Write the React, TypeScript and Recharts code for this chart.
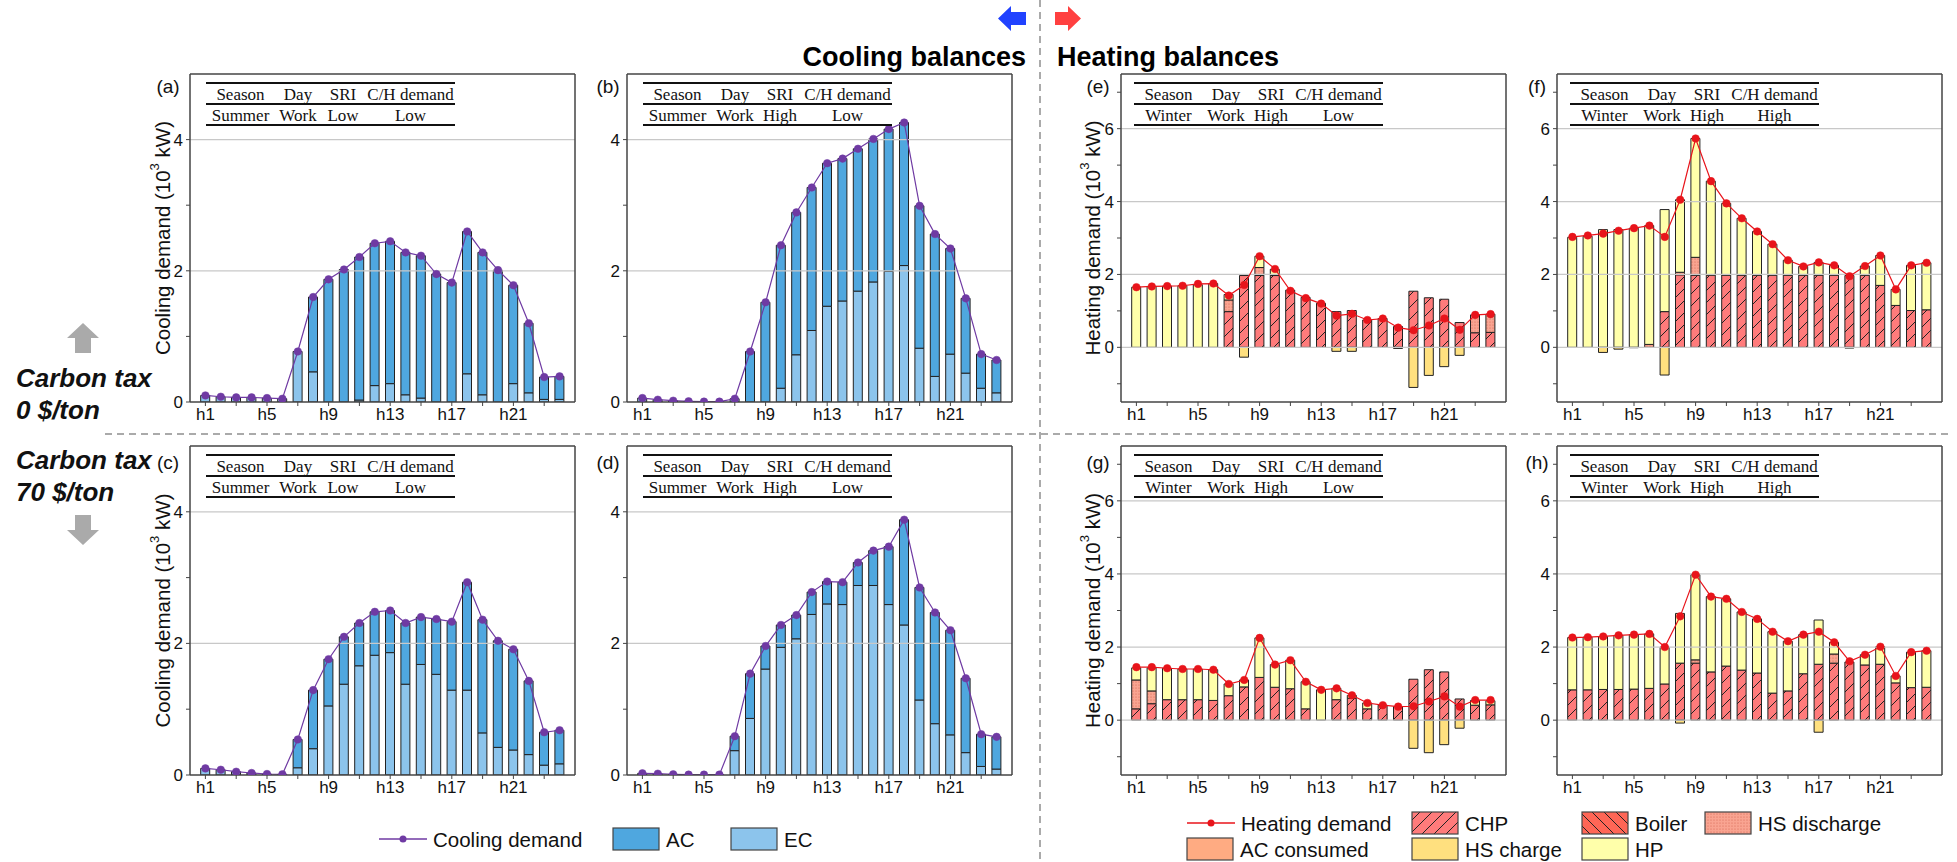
import { Bar, ComposedChart, Line, ReferenceLine, XAxis, YAxis } from 'recharts';

// hour axis
const HOURS = [1, 2, 3, 4, 5, 6, 7, 8, 9, 10, 11, 12, 13, 14, 15, 16, 17, 18, 19, 20, 21, 22, 23, 24];
const HOUR_TICKS = [1, 3, 5, 7, 9, 11, 13, 15, 17, 19, 21, 23];
const HOUR_LABELS = [1, 5, 9, 13, 17, 21];

const COOL_TICKS = [0, 1, 2, 3, 4];
const COOL_GRID = [2, 4];
const HEAT_TICKS = [-1, 0, 1, 2, 3, 4, 5, 6, 7];
const HEAT_GRID = [0, 2, 4, 6];

// (a) summer, SRI low, tax 0
const coolDemandA = [0.1, 0.08, 0.07, 0.07, 0.06, 0.05, 0.77, 1.6, 1.87, 2.02, 2.21, 2.42, 2.45, 2.28, 2.23, 1.95, 1.82, 2.6, 2.28, 2.01, 1.78, 1.2, 0.38, 0.39];
const ecA = [0.1, 0.08, 0.07, 0.07, 0.06, 0.05, 0.77, 0.46, 0, 0, 0.03, 0.25, 0.28, 0.11, 0.06, 0, 0, 0.43, 0.11, 0, 0.28, 0.14, 0.04, 0.04];
const acA = [0, 0, 0, 0, 0, 0, 0, 1.14, 1.87, 2.02, 2.18, 2.17, 2.17, 2.17, 2.17, 1.95, 1.82, 2.17, 2.17, 2.01, 1.5, 1.06, 0.34, 0.35];

// (b) summer, SRI high, tax 0
const coolDemandB = [0.06, 0.035, 0.02, 0.01, 0.005, 0.005, 0.05, 0.77, 1.52, 2.39, 2.89, 3.27, 3.64, 3.71, 3.86, 4.01, 4.16, 4.26, 2.99, 2.56, 2.34, 1.58, 0.73, 0.64];
const ecB = [0.06, 0.035, 0.02, 0.01, 0.005, 0.005, 0.05, 0, 0, 0.21, 0.72, 1.09, 1.46, 1.54, 1.69, 1.83, 1.99, 2.08, 0.82, 0.39, 0.73, 0.44, 0.21, 0.14];
const acB = [0, 0, 0, 0, 0, 0, 0, 0.77, 1.52, 2.18, 2.17, 2.18, 2.18, 2.17, 2.17, 2.18, 2.17, 2.18, 2.17, 2.17, 1.61, 1.14, 0.52, 0.5];

// (c) summer, SRI low, tax 70
const coolDemandC = [0.1, 0.08, 0.05, 0.03, 0.015, 0.01, 0.54, 1.29, 1.76, 2.1, 2.31, 2.48, 2.5, 2.31, 2.4, 2.37, 2.33, 2.93, 2.36, 2.04, 1.91, 1.43, 0.65, 0.68];
const ecC = [0.1, 0.08, 0.05, 0.03, 0.015, 0.01, 0.11, 0.4, 1.05, 1.38, 1.66, 1.82, 1.86, 1.38, 1.68, 1.53, 1.29, 1.29, 0.64, 0.42, 0.38, 0.31, 0.15, 0.17];
const acC = [0, 0, 0, 0, 0, 0, 0.43, 0.89, 0.71, 0.72, 0.65, 0.66, 0.64, 0.93, 0.72, 0.84, 1.04, 1.64, 1.72, 1.62, 1.53, 1.12, 0.5, 0.51];

// (d) summer, SRI high, tax 70
const coolDemandD = [0.025, 0.02, 0.01, 0.005, 0.005, 0.005, 0.59, 1.54, 1.96, 2.28, 2.43, 2.78, 2.94, 2.93, 3.23, 3.41, 3.47, 3.88, 2.85, 2.47, 2.2, 1.47, 0.62, 0.58];
const ecD = [0.025, 0.02, 0.01, 0.005, 0.005, 0.005, 0.37, 0.86, 1.61, 1.94, 2.07, 2.44, 2.6, 2.59, 2.88, 2.88, 2.59, 2.28, 1.14, 0.78, 0.61, 0.34, 0.13, 0.09];
const acD = [0, 0, 0, 0, 0, 0, 0.22, 0.68, 0.35, 0.34, 0.36, 0.34, 0.34, 0.34, 0.35, 0.53, 0.88, 1.6, 1.71, 1.69, 1.59, 1.13, 0.49, 0.49];

// (e) winter, demand low, tax 0
const heatDemandE = [1.65, 1.67, 1.68, 1.69, 1.74, 1.75, 1.42, 1.71, 2.5, 2.15, 1.55, 1.35, 1.2, 0.87, 0.92, 0.75, 0.79, 0.54, 0.47, 0.6, 0.79, 0.48, 0.89, 0.91];
const chpE = [0, 0, 0, 0, 0, 0, 0.98, 1.97, 1.97, 1.97, 1.57, 1.37, 1.21, 0.98, 1.01, 0.75, 0.79, 0.57, 1.54, 1.36, 1.32, 0.68, 0.4, 0.41];
const hsDisE = [0, 0, 0, 0, 0, 0, 0.32, 0, 0.22, 0, 0, 0, 0, 0, 0, 0, 0, 0, 0, 0, 0, 0, 0.49, 0.5];
const hpE = [1.65, 1.67, 1.68, 1.69, 1.72, 1.75, 0.15, 0, 0.31, 0.17, 0, 0, 0, 0, 0, 0, 0, 0, 0, 0, 0, 0, 0, 0];
const hsChE = [0, 0, 0, 0, 0, 0, 0, -0.27, 0, 0, 0, 0, 0, -0.11, -0.11, 0, 0, -0.03, -1.1, -0.77, -0.53, -0.22, 0, 0];

// (f) winter, demand high, tax 0
const heatDemandF = [3.03, 3.07, 3.12, 3.2, 3.27, 3.34, 3.03, 4.05, 5.73, 4.56, 3.95, 3.54, 3.18, 2.83, 2.39, 2.22, 2.33, 2.25, 1.95, 2.23, 2.52, 1.59, 2.25, 2.32];
const chpF = [0, 0, 0, 0, 0, 0, 0.98, 1.99, 1.98, 1.98, 1.98, 1.98, 1.98, 1.98, 1.98, 1.98, 1.98, 1.98, 1.97, 1.98, 1.7, 1.15, 1.01, 1.03];
const hsDisF = [0, 0, 0, 0, 0, 0.08, 0, 0.07, 0.49, 0, 0, 0, 0, 0, 0, 0, 0, 0, 0, 0, 0, 0, 0, 0];
const hpF = [3.02, 3.05, 3.23, 3.23, 3.27, 3.26, 2.8, 1.99, 3.26, 2.58, 1.97, 1.56, 1.2, 0.85, 0.41, 0.24, 0.35, 0.27, 0, 0.25, 0.82, 0.44, 1.24, 1.29];
const hsChF = [0, 0, -0.14, -0.05, -0.01, 0, -0.76, 0, 0, 0, 0, 0, 0, 0, 0, 0, 0, 0, -0.02, 0, 0, 0, 0, 0];

// (g) winter, demand low, tax 70
const heatDemandG = [1.45, 1.45, 1.42, 1.4, 1.4, 1.38, 0.99, 1.1, 2.25, 1.52, 1.64, 1.05, 0.83, 0.87, 0.68, 0.47, 0.41, 0.37, 0.38, 0.51, 0.65, 0.37, 0.55, 0.55];
const chpG = [0.31, 0.45, 0.56, 0.56, 0.56, 0.54, 0.67, 0.91, 1.17, 0.9, 0.86, 0.31, 0, 0.56, 0.6, 0.31, 0.41, 0.37, 1.12, 1.38, 1.32, 0.58, 0.41, 0.42];
const hsDisG = [0.79, 0.35, 0, 0, 0, 0, 0, 0, 0, 0, 0, 0, 0, 0, 0, 0, 0, 0, 0, 0, 0, 0, 0, 0];
const hpG = [0.33, 0.63, 0.86, 0.84, 0.84, 0.84, 0.32, 0.19, 1.08, 0.62, 0.78, 0.74, 0.83, 0.31, 0.08, 0.16, 0, 0, 0, 0, 0, 0, 0.13, 0.11];
const hsChG = [0, 0, 0, 0, 0, 0, 0, 0, 0, 0, 0, 0, 0, 0, 0, 0, 0, 0, -0.77, -0.89, -0.67, -0.22, 0, 0];

// (h) winter, demand high, tax 70
const heatDemandH = [2.26, 2.27, 2.29, 2.32, 2.34, 2.36, 2.0, 2.84, 3.98, 3.38, 3.32, 2.96, 2.77, 2.42, 2.16, 2.34, 2.42, 2.13, 1.61, 1.79, 2.01, 1.21, 1.86, 1.9];
const chpH = [0.83, 0.83, 0.84, 0.84, 0.85, 0.87, 0.99, 1.56, 1.56, 1.32, 1.48, 1.37, 1.29, 0.74, 0.8, 1.27, 1.53, 1.56, 1.59, 1.51, 1.53, 1.02, 0.89, 0.9];
const hsDisH = [0, 0, 0, 0, 0, 0, 0, 0, 0.09, 0, 0, 0, 0, 0, 0, 0, 0, 0.25, 0, 0, 0, 0, 0, 0];
const hpH = [1.43, 1.44, 1.45, 1.48, 1.49, 1.49, 1.01, 1.36, 2.33, 2.06, 1.84, 1.59, 1.48, 1.68, 1.36, 1.07, 1.21, 0.32, 0, 0.28, 0.48, 0.19, 0.97, 1.0];
const hsChH = [0, 0, 0, 0, 0, 0, 0, -0.08, 0, 0, 0, 0, 0, 0, 0, 0, -0.33, 0, 0, 0, 0, 0, 0, 0];

const TABLE_HEAD = ['Season', 'Day', 'SRI', 'C/H demand'];

const SANS = "'Liberation Sans', Arial, Helvetica, sans-serif";
const SERIF = "'Liberation Serif', 'Times New Roman', serif";

const C = {
  ac: '#4fa7df',
  ec: '#8cc4ec',
  coolLine: '#6f3aa3',
  heatLine: '#e8141b',
  chp: '#ff7b7b',
  boiler: '#ff6656',
  hsDis: '#f9a491',
  acCons: '#ffab82',
  hsCh: '#ffe07f',
  hp: '#ffffaa',
  frame: '#444',
  grid: '#c8c8c8',
};

const PW = 385;
const YW = 40;
const XH = 32;
const COLS = [190, 627, 1121, 1557];
const ROWS = [
  { top: 74, h: 328 },
  { top: 446, h: 329 },
];

type Layer = { key: string; values: number[]; fill: string };

function Panel({
  left,
  top,
  h,
  heat,
  demand,
  layers,
}: {
  left: number;
  top: number;
  h: number;
  heat: boolean;
  demand: number[];
  layers: Layer[];
}) {
  const data = HOURS.map((hour, i) => {
    const row: Record<string, number> = { hour, demand: demand[i] };
    layers.forEach((l) => {
      row[l.key] = l.values[i];
    });
    return row;
  });
  const domain: [number, number] = heat ? [-1.5, 7.5] : [0, 5];
  const yTicks = heat ? HEAT_TICKS : COOL_TICKS;
  const grid = heat ? HEAT_GRID : COOL_GRID;
  const lineColor = heat ? C.heatLine : C.coolLine;
  const tickStyle = { fontSize: 17, fill: '#111', fontFamily: SANS };
  return (
    <div style={{ position: 'absolute', left: left - YW, top: top - 2 }}>
      <ComposedChart
        width={YW + PW + 2}
        height={h + 2 + XH}
        data={data}
        stackOffset="sign"
        margin={{ top: 2, right: 2, left: 0, bottom: 0 }}
      >
        <XAxis
          dataKey="hour"
          type="number"
          domain={[0, 25]}
          ticks={HOUR_TICKS}
          interval={0}
          tickFormatter={(v: number) => (HOUR_LABELS.includes(v) ? `h${v}` : '')}
          tick={tickStyle}
          tickSize={4}
          tickMargin={2}
          height={XH}
          axisLine={{ stroke: C.frame, strokeWidth: 1.5 }}
          tickLine={{ stroke: C.frame }}
        />
        <XAxis
          xAxisId="top"
          orientation="top"
          type="number"
          domain={[0, 25]}
          ticks={HOUR_TICKS}
          interval={0}
          mirror
          tick={false}
          tickSize={4}
          axisLine={{ stroke: C.frame, strokeWidth: 1.5 }}
          tickLine={{ stroke: C.frame }}
        />
        <YAxis
          type="number"
          domain={domain}
          ticks={yTicks}
          interval={0}
          allowDataOverflow
          width={YW}
          tickFormatter={(v: number) => (v % 2 === 0 ? String(v) : '')}
          tick={tickStyle}
          tickSize={4}
          tickMargin={3}
          axisLine={{ stroke: C.frame, strokeWidth: 1.5 }}
          tickLine={{ stroke: C.frame }}
        />
        <YAxis
          yAxisId="right"
          orientation="right"
          type="number"
          domain={domain}
          ticks={yTicks}
          interval={0}
          allowDataOverflow
          mirror
          tick={false}
          tickSize={4}
          axisLine={{ stroke: C.frame, strokeWidth: 1.5 }}
          tickLine={{ stroke: C.frame }}
        />
        {grid.map((g) => (
          <ReferenceLine key={g} y={g} stroke={C.grid} strokeWidth={1.2} />
        ))}
        {layers.map((l) => (
          <Bar
            key={l.key}
            dataKey={l.key}
            stackId="s"
            barSize={9}
            fill={l.fill}
            stroke="#222"
            strokeWidth={1}
            isAnimationActive={false}
          />
        ))}
        <Line
          dataKey="demand"
          stroke={lineColor}
          strokeWidth={1.2}
          dot={{ r: 3.8, fill: lineColor, stroke: lineColor, strokeWidth: 0.5 }}
          activeDot={false}
          isAnimationActive={false}
        />
      </ComposedChart>
    </div>
  );
}

function coolLayers(ec: number[], ac: number[]): Layer[] {
  return [
    { key: 'EC', values: ec, fill: C.ec },
    { key: 'AC', values: ac, fill: C.ac },
  ];
}

function heatLayers(chp: number[], dis: number[], hp: number[], ch: number[]): Layer[] {
  return [
    { key: 'CHP', values: chp, fill: 'url(#pChp)' },
    { key: 'HS discharge', values: dis, fill: 'url(#pDis)' },
    { key: 'HP', values: hp, fill: C.hp },
    { key: 'HS charge', values: ch, fill: C.hsCh },
  ];
}

const PANELS = [
  { tag: '(a)', col: 0, row: 0, heat: false, demand: coolDemandA, layers: coolLayers(ecA, acA), cells: ['Summer', 'Work', 'Low', 'Low'] },
  { tag: '(b)', col: 1, row: 0, heat: false, demand: coolDemandB, layers: coolLayers(ecB, acB), cells: ['Summer', 'Work', 'High', 'Low'] },
  { tag: '(c)', col: 0, row: 1, heat: false, demand: coolDemandC, layers: coolLayers(ecC, acC), cells: ['Summer', 'Work', 'Low', 'Low'] },
  { tag: '(d)', col: 1, row: 1, heat: false, demand: coolDemandD, layers: coolLayers(ecD, acD), cells: ['Summer', 'Work', 'High', 'Low'] },
  { tag: '(e)', col: 2, row: 0, heat: true, demand: heatDemandE, layers: heatLayers(chpE, hsDisE, hpE, hsChE), cells: ['Winter', 'Work', 'High', 'Low'] },
  { tag: '(f)', col: 3, row: 0, heat: true, demand: heatDemandF, layers: heatLayers(chpF, hsDisF, hpF, hsChF), cells: ['Winter', 'Work', 'High', 'High'] },
  { tag: '(g)', col: 2, row: 1, heat: true, demand: heatDemandG, layers: heatLayers(chpG, hsDisG, hpG, hsChG), cells: ['Winter', 'Work', 'High', 'Low'] },
  { tag: '(h)', col: 3, row: 1, heat: true, demand: heatDemandH, layers: heatLayers(chpH, hsDisH, hpH, hsChH), cells: ['Winter', 'Work', 'High', 'High'] },
];

function InfoTable({ x, y, heat, cells }: { x: number; y: number; heat: boolean; cells: string[] }) {
  const off = heat ? -3 : 0;
  const x0 = x + 16 + off;
  const x1 = x + 265 + off;
  const centers = [50.5, 108, 153, 220.5].map((c) => x + c + off);
  return (
    <g fontFamily={SERIF} fontSize={17} fill="#111">
      {[9, 30, 51].map((d) => (
        <line key={d} x1={x0} x2={x1} y1={y + d} y2={y + d} stroke="#111" strokeWidth={2} />
      ))}
      {TABLE_HEAD.map((t, i) => (
        <text key={t} x={centers[i]} y={y + 20} textAnchor="middle" dominantBaseline="central">
          {t}
        </text>
      ))}
      {cells.map((t, i) => (
        <text key={i} x={centers[i]} y={y + 41} textAnchor="middle" dominantBaseline="central">
          {t}
        </text>
      ))}
    </g>
  );
}

function YLabel({ x, y, text }: { x: number; y: number; text: string }) {
  return (
    <text
      x={x}
      y={y}
      transform={`rotate(-90 ${x} ${y})`}
      textAnchor="middle"
      dominantBaseline="central"
      fontFamily={SANS}
      fontSize={20.5}
      fill="#111"
    >
      {text} (10
      <tspan dy={-8} fontSize={13}>
        3
      </tspan>
      <tspan dy={8}> kW)</tspan>
    </text>
  );
}

function Swatch({ x, y, fill, label }: { x: number; y: number; fill: string; label: string }) {
  return (
    <g>
      <rect x={x} y={y - 11} width={46} height={22} fill={fill} stroke="#444" strokeWidth={1.2} />
      <text x={x + 53} y={y} dominantBaseline="central" fontFamily={SANS} fontSize={20.5} fill="#111">
        {label}
      </text>
    </g>
  );
}

function LineKey({ x, y, color, label }: { x: number; y: number; color: string; label: string }) {
  return (
    <g>
      <line x1={x} x2={x + 48} y1={y} y2={y} stroke={color} strokeWidth={1.5} />
      <circle cx={x + 24} cy={y} r={3.5} fill={color} />
      <text x={x + 54} y={y} dominantBaseline="central" fontFamily={SANS} fontSize={20.5} fill="#111">
        {label}
      </text>
    </g>
  );
}

function Overlay() {
  return (
    <svg
      width={1957}
      height={862}
      style={{ position: 'absolute', left: 0, top: 0, pointerEvents: 'none' }}
    >
      <line x1={1040} x2={1040} y1={0} y2={862} stroke="#aaa" strokeWidth={2} strokeDasharray="7 5" />
      <line x1={105} x2={1950} y1={434} y2={434} stroke="#aaa" strokeWidth={2} strokeDasharray="7 5" />

      <polygon points="998,18.5 1011,6 1011,12 1026,12 1026,25 1011,25 1011,31" fill="#2142ff" />
      <polygon points="1081,18.5 1068,6 1068,12 1055,12 1055,25 1068,25 1068,31" fill="#ff4040" />
      <text x={1026} y={57} textAnchor="end" dominantBaseline="central" fontFamily={SANS} fontWeight="bold" fontSize={27}>
        Cooling balances
      </text>
      <text x={1057} y={57} dominantBaseline="central" fontFamily={SANS} fontWeight="bold" fontSize={27}>
        Heating balances
      </text>

      <polygon points="83,323 99,338 91,338 91,353 75,353 75,338 67,338" fill="#aaa" />
      <polygon points="75,515 91,515 91,530 99,530 83,545 67,530 75,530" fill="#aaa" />
      <g fontFamily={SANS} fontWeight="bold" fontStyle="italic" fontSize={26} fill="#111">
        <text x={16} y={378} dominantBaseline="central">Carbon tax</text>
        <text x={16} y={410} dominantBaseline="central">0 $/ton</text>
        <text x={16} y={460} dominantBaseline="central">Carbon tax</text>
        <text x={16} y={492} dominantBaseline="central">70 $/ton</text>
      </g>

      {PANELS.map((p) => {
        const x = COLS[p.col];
        const y = ROWS[p.row].top;
        const tagX = [168, 608, 1098, 1537][p.col];
        return (
          <g key={p.tag}>
            <text x={tagX} y={y + 12 + (p.row ? 4 : 0)} textAnchor="middle" dominantBaseline="central" fontFamily={SANS} fontSize={19} fill="#111">
              {p.tag}
            </text>
            <InfoTable x={x} y={y} heat={p.heat} cells={p.cells} />
          </g>
        );
      })}

      {ROWS.map((r) => (
        <g key={r.top}>
          <YLabel x={162} y={r.top + r.h / 2} text="Cooling demand" />
          <YLabel x={1092} y={r.top + r.h / 2} text="Heating demand" />
        </g>
      ))}

      <LineKey x={379} y={839} color={C.coolLine} label="Cooling demand" />
      <Swatch x={613} y={839} fill={C.ac} label="AC" />
      <Swatch x={731} y={839} fill={C.ec} label="EC" />

      <LineKey x={1187} y={823} color={C.heatLine} label="Heating demand" />
      <Swatch x={1412} y={823} fill="url(#pChp)" label="CHP" />
      <Swatch x={1582} y={823} fill="url(#pBoiler)" label="Boiler" />
      <Swatch x={1705} y={823} fill="url(#pDis)" label="HS discharge" />
      <Swatch x={1187} y={849} fill={C.acCons} label="AC consumed" />
      <Swatch x={1412} y={849} fill={C.hsCh} label="HS charge" />
      <Swatch x={1582} y={849} fill={C.hp} label="HP" />
    </svg>
  );
}

function Patterns() {
  return (
    <svg width={0} height={0} style={{ position: 'absolute' }}>
      <defs>
        <pattern id="pChp" patternUnits="userSpaceOnUse" width={12} height={12}>
          <rect width={12} height={12} fill={C.chp} />
          <path d="M0,12 L12,0 M-3,3 L3,-3 M9,15 L15,9" stroke="#222" strokeWidth={1} />
        </pattern>
        <pattern id="pBoiler" patternUnits="userSpaceOnUse" width={12} height={12}>
          <rect width={12} height={12} fill={C.boiler} />
          <path d="M0,0 L12,12 M-3,9 L3,15 M9,-3 L15,3" stroke="#222" strokeWidth={1} />
        </pattern>
        <pattern id="pDis" patternUnits="userSpaceOnUse" width={3} height={3}>
          <rect width={3} height={3} fill={C.hsDis} />
          <circle cx={1} cy={1} r={0.55} fill="#d2604d" />
        </pattern>
      </defs>
    </svg>
  );
}

export default function App() {
  return (
    <div style={{ position: 'absolute', left: 0, top: 0, width: 1957, height: 862, background: '#fff' }}>
      <Patterns />
      {PANELS.map((p) => (
        <Panel
          key={p.tag}
          left={COLS[p.col]}
          top={ROWS[p.row].top}
          h={ROWS[p.row].h}
          heat={p.heat}
          demand={p.demand}
          layers={p.layers}
        />
      ))}
      <Overlay />
    </div>
  );
}
